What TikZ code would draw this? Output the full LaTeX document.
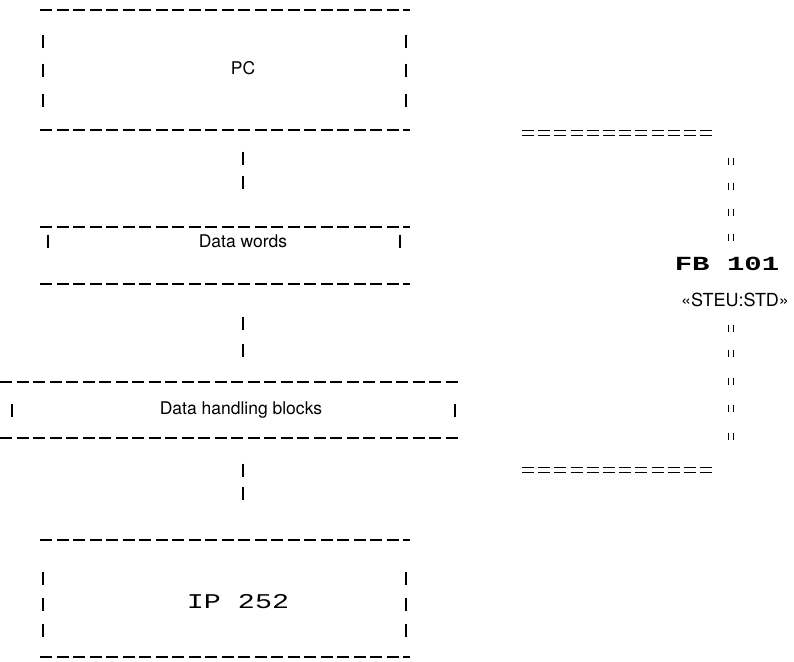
\documentclass[tikz,border=0pt]{standalone}
\usepackage{fontspec}
\setmainfont{TeX Gyre Heros}
\newfontfamily\dotfont{Liberation Mono}
\begin{document}
\begin{tikzpicture}[x=1pt,y=-1pt,
  hline/.style={line width=1.9pt, dash pattern=on 12pt off 4.5pt},
  tickln/.style={line width=2pt},
  lbl/.style={font=\fontsize{17.5}{20}\selectfont, inner sep=0pt},
  dotlbl/.style={font=\dotfont\fontsize{21}{24}\selectfont, inner sep=0pt},
  eqln/.style={line width=1.6pt}]
\useasboundingbox (0,0) rectangle (794,661);
\newcommand{\vtk}[2]{\draw[tickln] (#1,#2-6.5) -- (#1,#2+6.5);}
\newcommand{\qtk}[2]{\draw[line width=1.8pt] (#1-2.5,#2-3.5) -- (#1-2.5,#2+3.5) (#1+2.5,#2-3.5) -- (#1+2.5,#2+3.5);}
\newcommand{\eqrow}[2]{\foreach \ii in {0,...,11} {\draw[eqln] (#1+16.2*\ii,#2-2.5) -- ++(12,0); \draw[eqln] (#1+16.2*\ii,#2+2.5) -- ++(12,0);}}
% PC box
\node[lbl] (pc) at (243,68) {PC};
\draw[hline] (40,10) -- (410,10);
\draw[hline] (40,130) -- (410,130);
\foreach \yy in {42,70,100} {\vtk{43}{\yy} \vtk{406}{\yy}}
% connector PC -> Data words
\vtk{243}{158} \vtk{243}{182}
% Data words
\node[lbl] (dw) at (243,241) {Data words};
\draw[hline] (40,227) -- (410,227);
\draw[hline] (40,284) -- (410,284);
\vtk{48}{241} \vtk{400}{241}
% connector
\vtk{243}{323} \vtk{243}{350}
% Data handling blocks
\node[lbl] (dhb) at (241,410) {Data handling blocks};
\draw[hline] (0,382) -- (460,382);
\draw[hline] (0,438) -- (460,438);
\vtk{12}{410} \vtk{455}{410}
% connector
\vtk{243}{470} \vtk{243}{493}
% IP 252
\node[dotlbl] (ip) at (238,602) {\scalebox{1.35}[1]{IP 252}};
\draw[hline] (40,540) -- (410,540);
\draw[hline] (40,657) -- (410,657);
\foreach \yy in {578,604,630} {\vtk{43}{\yy} \vtk{406}{\yy}}
% right column
\eqrow{522}{133}
\foreach \yy in {161,186,212,237} {\qtk{731}{\yy}}
\node[dotlbl, font=\dotfont\bfseries\fontsize{20}{24}\selectfont] (fb) at (727,264) {\scalebox{1.45}[1]{FB 101}};
\node[lbl, font=\fontsize{18}{20}\selectfont] (steu) at (735,300) {«STEU:STD»};
\foreach \yy in {328,353,381,408,436} {\qtk{731}{\yy}}
\eqrow{522}{470}
\end{tikzpicture}
\end{document}
